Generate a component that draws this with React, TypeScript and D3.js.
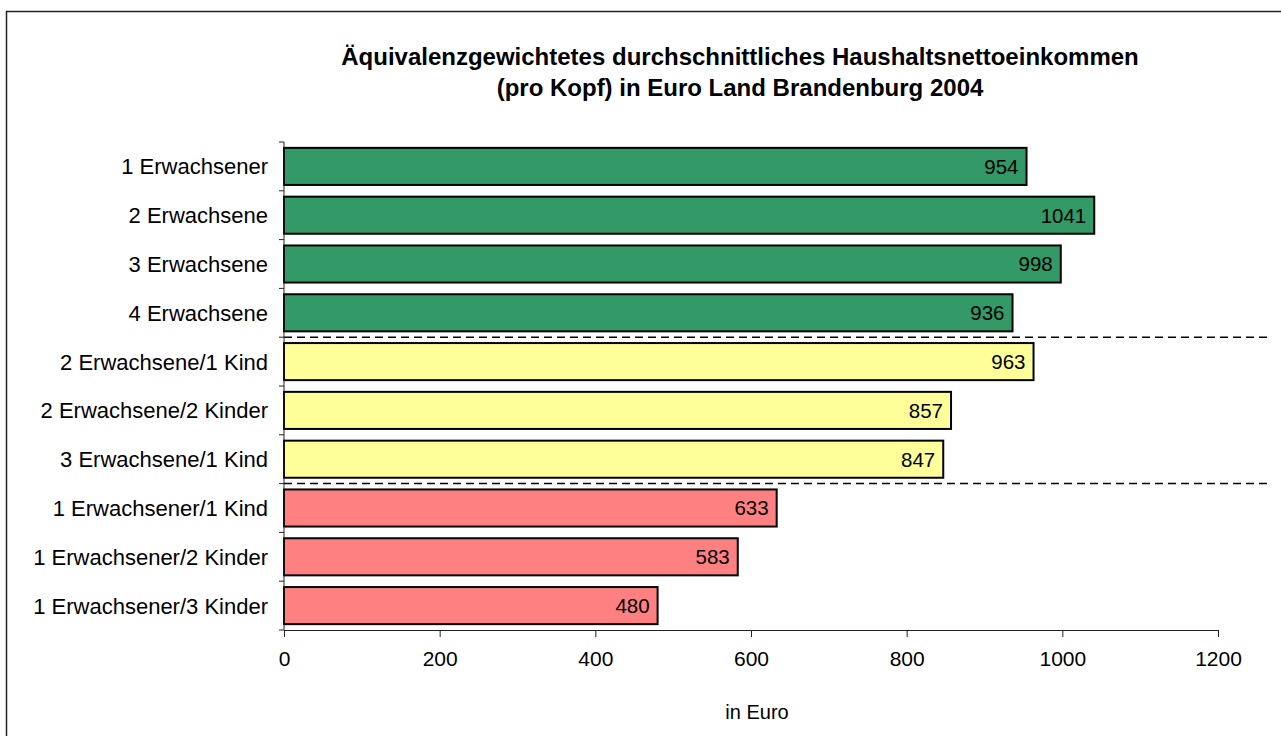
import React, {useEffect, useRef} from "react";
import * as d3 from "d3";

const categories = [
    "1 Erwachsener", "2 Erwachsene", "3 Erwachsene", "4 Erwachsene",
    "2 Erwachsene/1 Kind", "2 Erwachsene/2 Kinder", "3 Erwachsene/1 Kind",
    "1 Erwachsener/1 Kind", "1 Erwachsener/2 Kinder", "1 Erwachsener/3 Kinder",
]
const values = [954, 1041, 998, 936, 963, 857, 847, 633, 583, 480]
const groups = [0, 0, 0, 0, 1, 1, 1, 2, 2, 2]
const groupColors = ["#339966", "#FFFF99", "#FF8080"]
const xTicks = [0, 200, 400, 600, 800, 1000, 1200]
const titleLines = [
    "Äquivalenzgewichtetes durchschnittliches Haushaltsnettoeinkommen",
    "(pro Kopf) in Euro Land Brandenburg 2004",
]

const W = 1281
const H = 736
const font = "'Liberation Sans', Arial, sans-serif"

const App = () => {
    const svgRef = useRef(null)

    useEffect(() => {
        const svg = d3.select(svgRef.current)
        svg.selectAll("*").remove()

        const left = 284, right = 1218, top = 142, bottom = 630

        const x = d3.scaleLinear().domain([0, 1200]).range([left, right])
        const y = d3.scaleBand().domain(categories).range([top, bottom]).paddingInner(0.24).paddingOuter(0.12)

        // frame
        svg.append("rect")
            .attr("x", 6.5).attr("y", 11.5)
            .attr("width", W + 20).attr("height", H + 20)
            .attr("fill", "white").attr("stroke", "#222").attr("stroke-width", 1.5)

        const title = svg.append("text")
            .attr("x", 740).attr("text-anchor", "middle")
            .attr("font-family", font).attr("font-weight", "bold").attr("font-size", 24)
        titleLines.forEach((t, i) => {
            title.append("tspan").attr("x", 740).attr("y", 65 + i * 31).text(t)
        })

        // bars
        svg.selectAll(".bar")
            .data(values)
            .join("rect")
            .attr("class", "bar")
            .attr("x", x(0))
            .attr("y", (d, i) => y(categories[i]) as number)
            .attr("width", d => x(d) - x(0))
            .attr("height", y.bandwidth())
            .attr("fill", (d, i) => groupColors[groups[i]])
            .attr("stroke", "black")
            .attr("stroke-width", 2)

        svg.selectAll(".val")
            .data(values)
            .join("text")
            .attr("class", "val")
            .attr("x", d => x(d) - 8)
            .attr("y", (d, i) => (y(categories[i]) as number) + y.bandwidth() / 2)
            .attr("dy", "0.36em")
            .attr("text-anchor", "end")
            .attr("font-family", font).attr("font-size", 20.5)
            .text(d => d)

        // group separators
        const step = y.step()
        const sepIdx = [4, 7]
        svg.selectAll(".sep")
            .data(sepIdx)
            .join("line")
            .attr("class", "sep")
            .attr("x1", left).attr("x2", 1270)
            .attr("y1", d => top + d * step).attr("y2", d => top + d * step)
            .attr("stroke", "black").attr("stroke-width", 1.5)
            .attr("stroke-dasharray", "8,5")

        // y axis
        const yAxis = svg.append("g")
        yAxis.append("line")
            .attr("x1", left).attr("x2", left).attr("y1", top).attr("y2", bottom)
            .attr("stroke", "#222").attr("stroke-width", 1)
        yAxis.selectAll(".ytick")
            .data(d3.range(categories.length + 1))
            .join("line")
            .attr("x1", left - 5).attr("x2", left)
            .attr("y1", d => top + d * step).attr("y2", d => top + d * step)
            .attr("stroke", "#222")
        yAxis.selectAll(".ylab")
            .data(categories)
            .join("text")
            .attr("x", left - 16)
            .attr("y", d => (y(d) as number) + y.bandwidth() / 2)
            .attr("dy", "0.36em")
            .attr("text-anchor", "end")
            .attr("font-family", font).attr("font-size", 22)
            .text(d => d)

        // x axis
        const xAxis = d3.axisBottom(x).tickValues(xTicks).tickFormat(d3.format("d"))
            .tickSize(7).tickPadding(14).tickSizeOuter(0)
        const gx = svg.append("g").attr("transform", `translate(0,${bottom})`).call(xAxis)
        gx.select(".domain").attr("stroke", "#222")
        gx.selectAll(".tick line").attr("stroke", "#222")
        gx.selectAll("text").attr("font-family", font).attr("font-size", 21).attr("fill", "black")

        svg.append("text")
            .attr("x", 757).attr("y", 719)
            .attr("text-anchor", "middle")
            .attr("font-family", font).attr("font-size", 20)
            .text("in Euro")
    }, [])

    return (
        <svg ref={svgRef} width={W} height={H} style={{position: "absolute", left: 0, top: 0}}/>
    )
}

export default App
